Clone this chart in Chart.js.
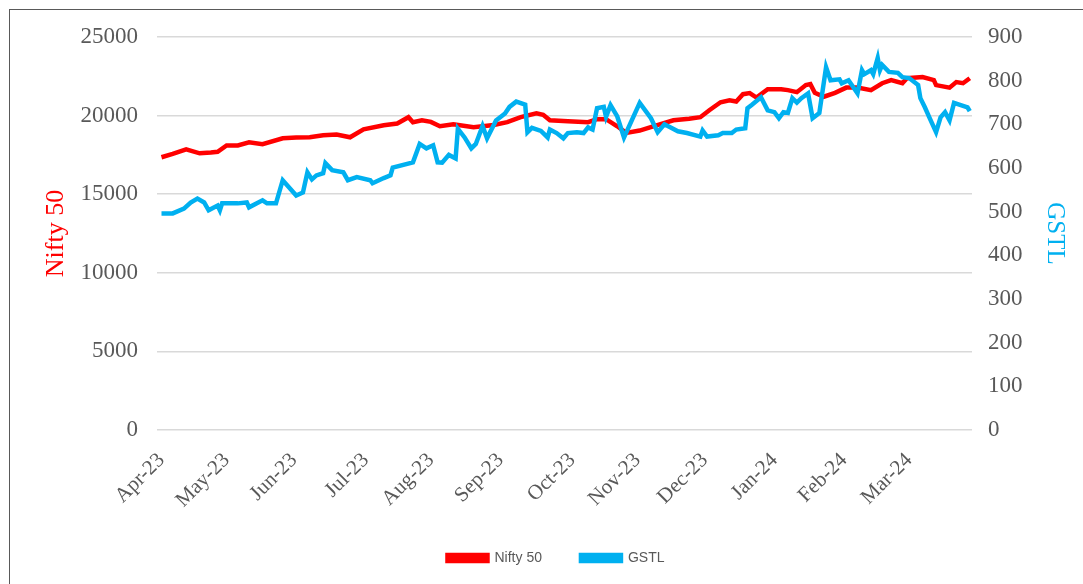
<!DOCTYPE html>
<html>
<head>
<meta charset="utf-8">
<script src="https://cdn.jsdelivr.net/npm/chart.js@4.4.1/dist/chart.umd.min.js"></script>
<style>
  body { margin: 0; background: #fff; overflow: hidden; }
  #frame { position: absolute; left: 9px; top: 9px; width: 1200px; height: 700px; border: 1px solid #595959; }
  #chart { position: absolute; left: 0; top: 0; }
</style>
</head>
<body>
<div id="frame"></div>
<canvas id="chart" width="1083" height="584"></canvas>
<script>
// days counted from 1 Apr 2023; labels sit on the first trading day of each month
var monthDays = [2, 31, 61, 93, 122, 153, 185, 214, 244, 275, 306, 335];
var monthLabels = ["Apr-23", "May-23", "Jun-23", "Jul-23", "Aug-23", "Sep-23",
                   "Oct-23", "Nov-23", "Dec-23", "Jan-24", "Feb-24", "Mar-24"];

var niftyDays = [2, 7, 13, 19, 24, 27, 31, 36, 41, 47, 56, 62, 68, 74, 80, 86, 92, 101, 107, 112,
                 114, 118, 122, 126, 132, 141, 150, 156, 162, 169, 172, 175, 183, 192, 196, 200, 205, 209, 215, 221,
                 230, 237, 242, 246, 251, 255, 258, 261, 264, 267, 272, 278, 281, 285, 289, 291, 293, 297, 302, 307,
                 312, 318, 323, 327, 332, 334, 341, 346, 347, 353, 356, 359, 362];
var niftyValues = [17350, 17560, 17850, 17600, 17650, 17700, 18100, 18100, 18300, 18180, 18560, 18600, 18620, 18750, 18800, 18620, 19130, 19390, 19500, 19900,
                   19580, 19700, 19600, 19320, 19450, 19260, 19400, 19580, 19900, 20150, 20050, 19700, 19640, 19580, 19770, 19770, 19320, 18900, 19050, 19320,
                   19700, 19800, 19900, 20340, 20850, 20980, 20900, 21360, 21430, 21150, 21680, 21680, 21620, 21490, 21940, 22000, 21450, 21200, 21450, 21780,
                   21780, 21620, 22060, 22260, 22060, 22380, 22450, 22260, 21940, 21780, 22130, 22060, 22380];

var gstlDays = [2, 7, 12, 15, 18, 21, 23, 27, 28, 29, 36, 40, 41, 47, 49, 53, 56, 62, 65, 67,
                69, 71, 74, 75, 78, 83, 85, 89, 95, 96, 101, 104, 105, 114, 117, 120, 123, 125, 127, 130,
                133, 134, 137, 140, 142, 145, 147, 151, 155, 157, 160, 164, 165, 167, 171, 174, 175, 178, 181, 183,
                187, 190, 192, 194, 196, 199, 200, 202, 205, 208, 215, 220, 223, 226, 229, 232, 236, 242, 243, 245,
                250, 252, 256, 258, 262, 263, 265, 269, 272, 275, 277, 279, 281, 283, 285, 287, 290, 292, 295, 298,
                300, 304, 305, 308, 312, 314, 315, 318, 319, 321, 322, 323, 326, 330, 332, 335, 339, 340, 342, 344,
                347, 349, 351, 353, 355, 358, 361, 362];
var gstlValues = [496, 496, 507, 521, 530, 521, 503, 514, 503, 519, 519, 521, 510, 526, 519, 519, 572, 537, 544, 590,
                  574, 583, 588, 611, 595, 590, 572, 579, 572, 565, 577, 583, 601, 613, 655, 645, 652, 613, 612, 630,
                  622, 690, 670, 645, 655, 696, 668, 709, 725, 740, 752, 745, 682, 692, 685, 670, 688, 680, 668, 680,
                  682, 680, 693, 688, 737, 740, 717, 744, 718, 670, 749, 714, 682, 700, 692, 684, 680, 672, 686, 672,
                  675, 680, 680, 688, 691, 737, 745, 762, 732, 728, 714, 728, 726, 760, 750, 760, 771, 714, 726, 831,
                  801, 803, 794, 801, 771, 824, 815, 824, 815, 852, 824, 836, 820, 818, 808, 806, 790, 760, 739, 716,
                  682, 716, 728, 709, 749, 744, 739, 730];

function toPoints(days, values) {
  var pts = [];
  for (var i = 0; i < days.length; i++) {
    pts.push({x: days[i], y: values[i]});
  }
  return pts;
}

var serif = "'Liberation Serif', 'DejaVu Serif', serif";
var gray = "#595959";

var ctx = document.getElementById("chart").getContext("2d");

new Chart(ctx, {
  type: "line",
  data: {
    datasets: [{
      label: "Nifty 50",
      data: toPoints(niftyDays, niftyValues),
      borderColor: "#FF0000",
      backgroundColor: "#FF0000",
      borderWidth: 4.5,
      pointRadius: 0,
      yAxisID: "y",
      order: 1
    }, {
      label: "GSTL",
      data: toPoints(gstlDays, gstlValues),
      borderColor: "#00B0F0",
      backgroundColor: "#00B0F0",
      borderWidth: 4.5,
      pointRadius: 0,
      yAxisID: "y1",
      order: 0
    }]
  },
  options: {
    responsive: false,
    animation: false,
    layout: { padding: { top: 37, left: 29, right: 0, bottom: 9 } },
    plugins: {
      tooltip: { enabled: false },
      legend: {
        position: "bottom",
        labels: {
          boxWidth: 40,
          boxHeight: 6,
          padding: 39,
          color: gray,
          font: { family: "'Liberation Sans', Arial, sans-serif", size: 14 },
          sort: function(a, b) { return a.datasetIndex - b.datasetIndex; }
        }
      }
    },
    scales: {
      x: {
        type: "linear",
        min: 0,
        max: 363,
        afterBuildTicks: function(scale) {
          scale.ticks = monthDays.map(function(d) { return {value: d}; });
        },
        afterFit: function(scale) { scale.height = 82; },
        ticks: {
          autoSkip: false,
          minRotation: 45,
          maxRotation: 45,
          padding: 10,
          color: gray,
          font: { family: serif, size: 21 },
          callback: function(value) {
            var i = monthDays.indexOf(value);
            return i >= 0 ? monthLabels[i] : "";
          }
        },
        grid: { display: false },
        border: { display: false }
      },
      y: {
        position: "left",
        min: 0,
        max: 25000,
        afterFit: function(scale) { scale.width = 128; },
        ticks: {
          stepSize: 5000,
          padding: 19,
          color: gray,
          font: { family: serif, size: 23 },
          callback: function(value) { return String(value); }
        },
        grid: { color: "#D9D9D9", lineWidth: 1.5, drawTicks: false },
        border: { display: false },
        title: {
          display: true,
          text: "Nifty 50",
          color: "#FF0000",
          padding: { top: 12, bottom: 0 },
          font: { family: serif, size: 26 }
        }
      },
      y1: {
        position: "right",
        min: 0,
        max: 900,
        afterFit: function(scale) { scale.width = 111; },
        ticks: {
          stepSize: 100,
          padding: 16,
          color: gray,
          font: { family: serif, size: 23 }
        },
        grid: { display: false, drawTicks: false },
        border: { display: false },
        title: {
          display: true,
          text: "GSTL",
          color: "#00B0F0",
          padding: { top: 13, bottom: 0 },
          font: { family: serif, size: 25 }
        }
      }
    }
  }
});
</script>
</body>
</html>
